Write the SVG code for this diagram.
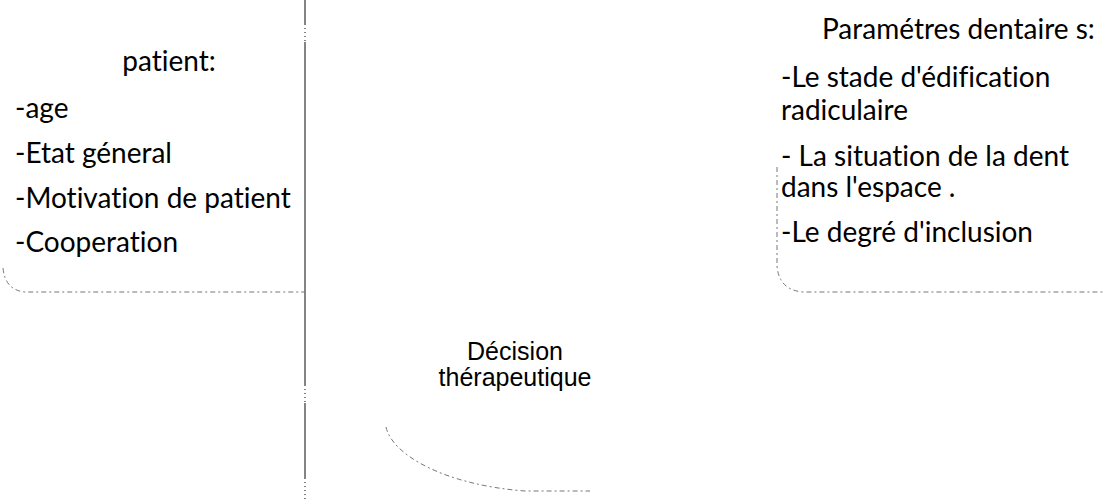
<svg xmlns="http://www.w3.org/2000/svg" width="1104" height="501" viewBox="0 0 1104 501">
<style>
.t{font-family:Lato,"Open Sans","Liberation Sans",sans-serif;font-size:28px;fill:#000;font-variant-ligatures:none}
.c{font-family:"Liberation Sans",Arial,sans-serif;font-size:25px;fill:#000}
.b{fill:none;stroke:#777;stroke-width:1;stroke-dasharray:5 3 2 3}
.v{fill:none;stroke:#444;stroke-width:1.3}
</style>
<rect width="1104" height="501" fill="#fff"/>
<g id="connectors">
<path class="v" d="M305,0 V24 M305,42 V385 M305,403 V478"/>
<path class="v" stroke-dasharray="1 3" d="M305,24 V42 M305,385 V403 M305,478 V501"/>
</g>
<g id="patient">
<path class="b" d="M3,268 Q5,290 25,292 H305"/>
<text class="t" x="169" y="71" text-anchor="middle">patient:</text>
<text class="t" x="15" y="118">-age</text>
<text class="t" x="15" y="163">-Etat géneral</text>
<text class="t" x="15" y="208">-Motivation de patient</text>
<text class="t" x="15" y="252">-Cooperation</text>
</g>
<g id="parametres">
<path class="b" d="M777,167 V266 Q779,290 803,292 H1104"/>
<text class="t" x="822" y="39">Paramétres dentaire s:</text>
<text class="t" x="781" y="87">-Le stade d'édification</text>
<text class="t" x="781" y="120">radiculaire</text>
<text class="t" x="781" y="166">- La situation de la dent</text>
<text class="t" x="781" y="197">dans l'espace .</text>
<text class="t" x="781" y="242">-Le degré d'inclusion</text>
</g>
<g id="decision">
<path class="b" d="M386,427 C392,455 445,485 525,491 H590"/>
<text class="c" x="515" y="360" text-anchor="middle">Décision</text>
<text class="c" x="515" y="386" text-anchor="middle">thérapeutique</text>
</g>
</svg>
